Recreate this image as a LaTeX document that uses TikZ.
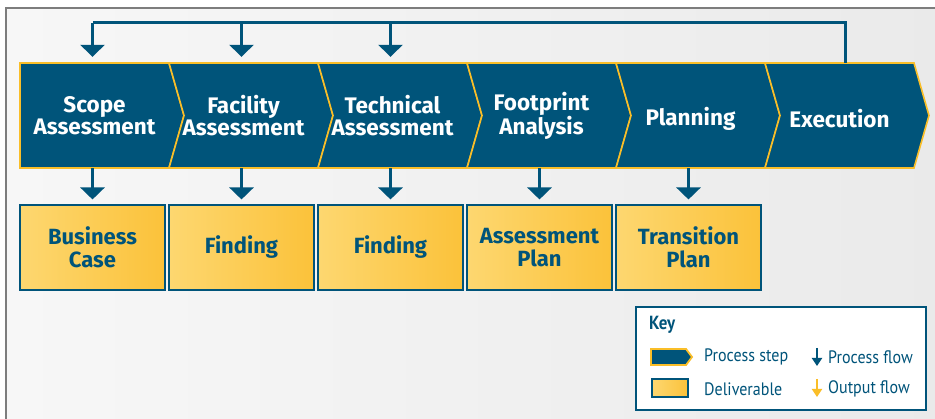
\documentclass[tikz,border=0pt]{standalone}
\usepackage{fontspec}
\setmainfont{Fira Sans}
\newfontfamily\keyfont[FakeStretch=0.89]{PT Sans}
\usetikzlibrary{arrows.meta}
\definecolor{navy}{RGB}{0,84,122}
\definecolor{gold}{RGB}{250,190,40}
\definecolor{goldlt}{RGB}{253,215,112}
\definecolor{golddk}{RGB}{251,194,58}
\definecolor{rim}{RGB}{125,125,125}
\definecolor{bglt}{RGB}{247,247,247}
\definecolor{bgdk}{RGB}{234,234,234}

\tikzset{
  stage/.style={minimum width=149pt, minimum height=105pt, inner sep=0pt,
    text=white, align=center, font=\bfseries\fontsize{22.5}{22.5}\selectfont},
  chev/.style={fill=navy, draw=gold, line width=1.6pt, line join=miter},
  deliv/.style={draw=navy, line width=1.1pt, left color=goldlt, right color=golddk,
    minimum width=145pt, minimum height=85pt, inner sep=0pt,
    text=navy, align=center, font=\bfseries\fontsize{22}{23}\selectfont},
  flow/.style={navy, line width=3pt, -{Triangle[length=12pt,width=24pt]}},
  keytext/.style={anchor=west, inner sep=0pt, text=navy, font=\keyfont\fontsize{18}{18}\selectfont},
}

\begin{document}
\begin{tikzpicture}[x=1pt,y=-1pt]
\useasboundingbox (0,0) rectangle (935,419);
\draw[rim, line width=1.5pt, left color=bglt, right color=bgdk] (6,8) rectangle (950,440);

% process steps
\foreach \i/\txt/\dy in {1/{Scope\\Assessment}/0, 2/{Facility\\Assessment}/0, 3/{Technical\\Assessment}/0,
                         4/{Footprint\\Analysis}/0, 5/Planning/3.5, 6/Execution/3.5} {
  \pgfmathsetmacro\xo{20+149*(\i-1)}
  \pgfmathsetmacro\nd{\i>1 ? 15 : 0}
  \draw[chev] (\xo,63) -- ++(149,0) -- ++(15,52.5) -- ++(-15,52.5) -- ++(-149,0)
    -- ++(\nd,-52.5) -- cycle;
  \node[stage] (s\i) at ({\xo+74.5},115.5) {};
  \node[text=white, font=\bfseries\fontsize{22.5}{22.5}\selectfont, align=center,
    inner sep=0pt] (t\i) at ([yshift=-\dy pt]s\i.center) {\txt};
}

% deliverables
\foreach \i/\txt in {1/{Business\\Case}, 2/Finding, 3/Finding,
                     4/{Assessment\\Plan}, 5/{Transition\\Plan}} {
  \node[deliv] (b\i) at ({92.5+149*(\i-1)},247.5) {\txt};
  \draw[flow, shorten >=5pt] (b\i.north |- s\i.south) -- (b\i.north);
}

% feedback loop
\coordinate (fb) at (845,23);
\draw[navy, line width=3pt] (fb |- s6.north) -- (fb) -- (b1.north |- fb);
\foreach \i in {1,2,3}
  \draw[flow, shorten >=6pt] (b\i.north |- fb) -- (b\i.north |- s\i.north);

% key
\node[draw=navy, line width=1.5pt, fill=white, minimum width=290pt, minimum height=103pt,
  inner sep=0pt] (key) at (781,358.5) {};
\node[keytext, font=\keyfont\bfseries\fontsize{19}{19}\selectfont] (keyhead) at (649,325) {Key};
\draw[chev, line width=1.8pt] (651,349) -- (686,349) -- (692,357) -- (686,365) -- (651,365) -- cycle;
\node[keytext] (kstep) at (704,357) {Process step};
\draw[navy, line width=1.8pt, left color=goldlt, right color=golddk] (652,379) rectangle (688,397);
\node[keytext] (kdel) at (704,389) {Deliverable};
\coordinate (pa) at (817,348);
\coordinate (oa) at (817,379);
\draw[navy, line width=2pt, -{Triangle[length=8pt,width=10pt]}] (pa) -- ++(0,18);
\node[keytext] (kpf) at (828,357) {Process flow};
\draw[gold, line width=2pt, -{Triangle[length=8pt,width=10pt]}] (oa) -- ++(0,18);
\node[keytext] (kof) at (828,389) {Output flow};
\end{tikzpicture}
\end{document}
